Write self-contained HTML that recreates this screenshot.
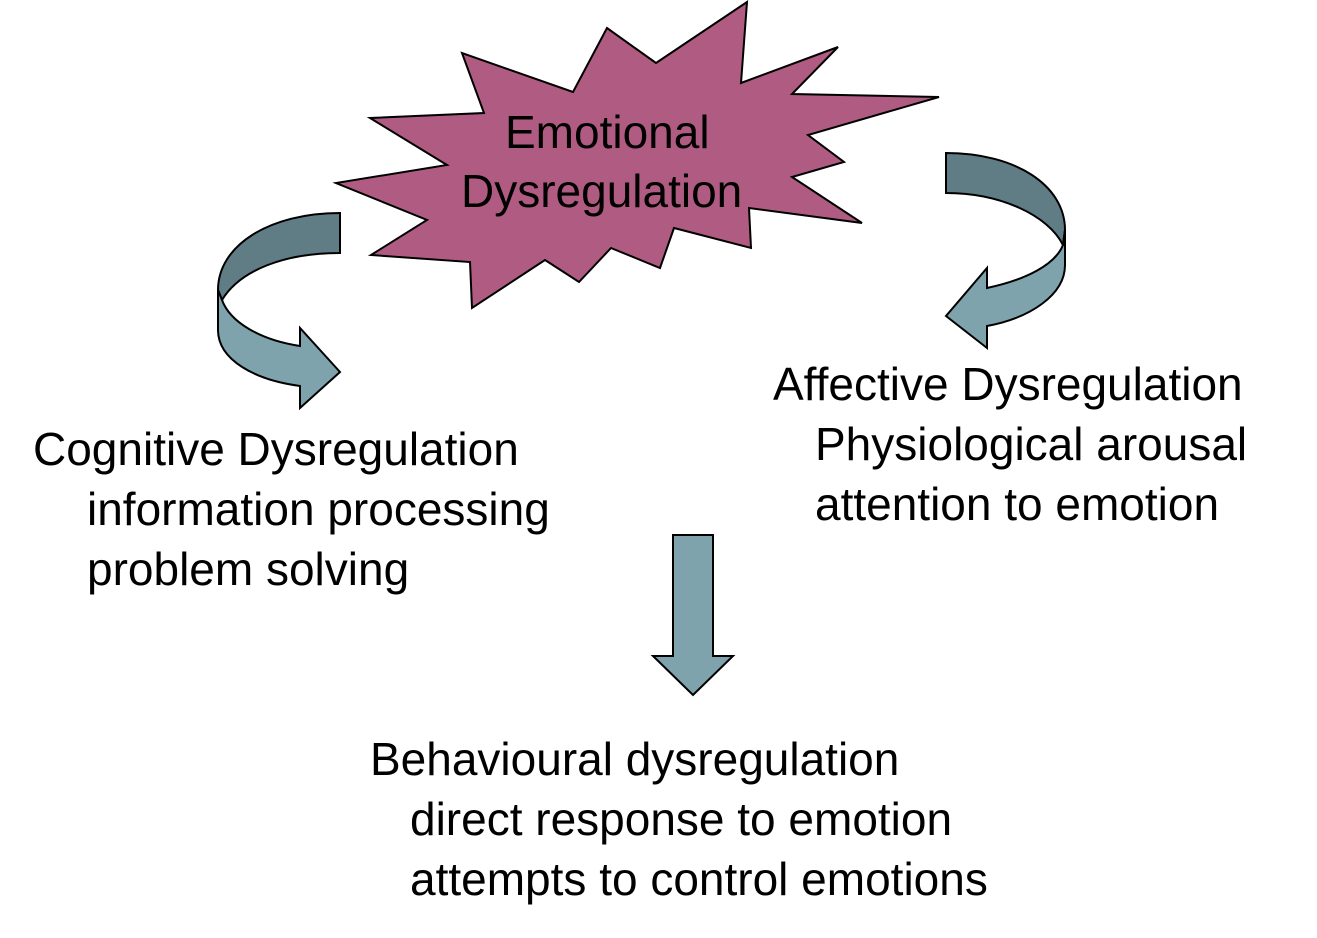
<!DOCTYPE html>
<html><head><meta charset="utf-8"><style>
body{margin:0;width:1317px;height:938px;background:#fff;position:relative;overflow:hidden;font-family:"Liberation Sans",Arial,sans-serif;}
.t{position:absolute;font-size:46px;line-height:60px;white-space:nowrap;color:#000;}
svg{position:absolute;left:0;top:0;}
</style></head><body>
<svg width="1317" height="938" viewBox="0 0 1317 938">
<polygon fill="#b05c82" stroke="#000" stroke-width="2" stroke-linejoin="miter" points="747,2 741,83 838,47 792,94 939,97 808,135 844,162 792,177 862,223 749,208 751,248 674,228 660,268 611,248 579,282 545,260 472,308 470,262 371,255 427,220 336,183 447,165 370,118 484,113 462,53 573,92 607,28 656,63"/>
<!-- left curved arrow -->
<path fill="#607c85" stroke="#000" stroke-width="2" d="M340,213 C270,213 218,245 218,290 L222,300 C240,270 285,253 340,253 Z"/>
<path fill="#7fa3ac" stroke="#000" stroke-width="2" d="M218,290 L218,330 C218,360 255,380 300,386 L300,408 L340,372 L300,328 L300,346 C260,340 230,322 222,300 Z"/>
<!-- right curved arrow -->
<path fill="#607c85" stroke="#000" stroke-width="2" d="M946,153 C1015,153 1065,185 1065,230 L1063,245 C1048,215 1000,193 946,193 Z"/>
<path fill="#7fa3ac" stroke="#000" stroke-width="2" d="M1065,230 L1065,265 C1065,295 1030,318 987,326 L987,348 L946,316 L987,268 L987,288 C1025,280 1055,265 1063,245 Z"/>
<!-- down arrow -->
<polygon fill="#7fa3ac" stroke="#000" stroke-width="2" points="673,535 713,535 713,656 733,656 693,695 653,656 673,656"/>
</svg>
<div class="t" style="left:505px;top:102px;">Emotional</div>
<div class="t" style="left:461px;top:161px;">Dysregulation</div>
<div class="t" style="left:33px;top:419px;">Cognitive Dysregulation</div>
<div class="t" style="left:87px;top:479px;">information processing</div>
<div class="t" style="left:87px;top:539px;">problem solving</div>
<div class="t" style="left:773px;top:354px;">Affective Dysregulation</div>
<div class="t" style="left:815px;top:414px;">Physiological arousal</div>
<div class="t" style="left:815px;top:474px;">attention to emotion</div>
<div class="t" style="left:370px;top:729px;">Behavioural dysregulation</div>
<div class="t" style="left:410px;top:789px;">direct response to emotion</div>
<div class="t" style="left:410px;top:849px;">attempts to control emotions</div>
</body></html>
